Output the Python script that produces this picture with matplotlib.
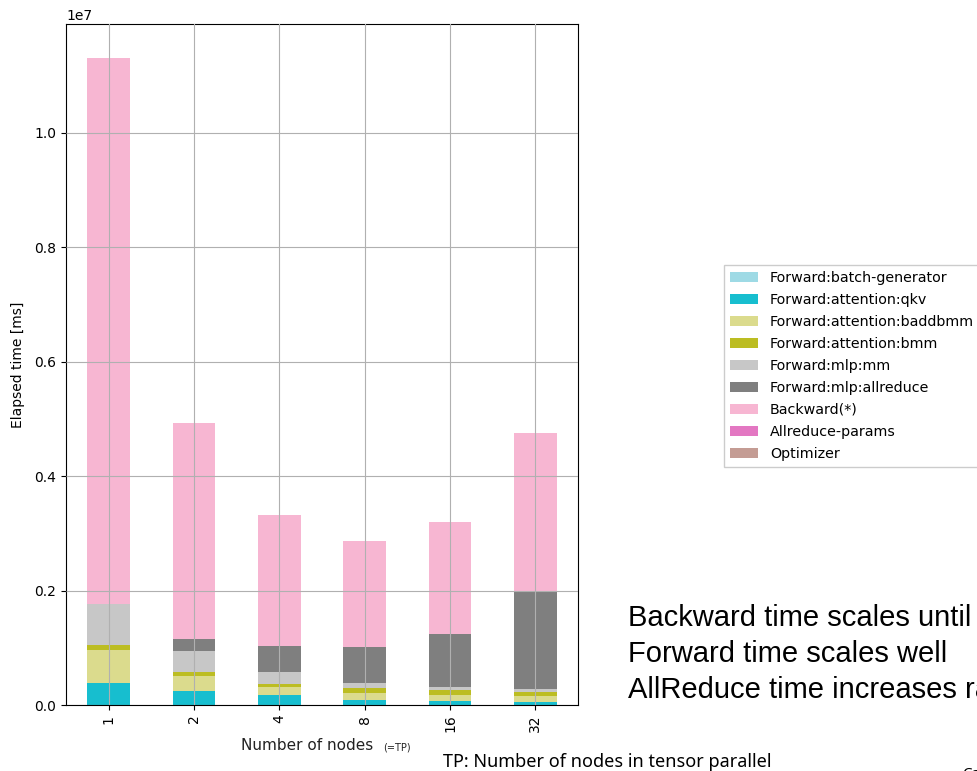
import numpy as np
import pandas as pd
import matplotlib
matplotlib.use("Agg")
import matplotlib.pyplot as plt

# elapsed time per phase, stacked per node count
nodes = ["1", "2", "4", "8", "16", "32"]
batch_generator = [4000, 3000, 2500, 2000, 2000, 2000]
attention_qkv = [386000, 247000, 167000, 85000, 74000, 45000]
attention_baddbmm = [571000, 257000, 140000, 128000, 105000, 116000]
attention_bmm = [81000, 75000, 58000, 82000, 81000, 64000]
mlp_mm = [722000, 361000, 215000, 82000, 52000, 52000]
mlp_allreduce = [0, 210000, 455000, 628000, 926000, 1701000]
backward = [9536000, 3775000, 2283000, 1858000, 1957000, 2771000]
allreduce_params = [0, 1000, 1000, 1000, 1000, 1000]
optimizer = [1000, 1000, 1000, 1000, 1000, 1000]

phases = ["Forward:batch-generator", "Forward:attention:qkv",
          "Forward:attention:baddbmm", "Forward:attention:bmm",
          "Forward:mlp:mm", "Forward:mlp:allreduce", "Backward(*)",
          "Allreduce-params", "Optimizer"]
colors = ["#9edae5", "#17becf", "#dbdb8d", "#bcbd22", "#c7c7c7",
          "#7f7f7f", "#f7b6d2", "#e377c2", "#c49c94"]

df = pd.DataFrame({
    phases[0]: batch_generator,
    phases[1]: attention_qkv,
    phases[2]: attention_baddbmm,
    phases[3]: attention_bmm,
    phases[4]: mlp_mm,
    phases[5]: mlp_allreduce,
    phases[6]: backward,
    phases[7]: allreduce_params,
    phases[8]: optimizer,
}, index=nodes)

fig = plt.figure(figsize=(9.78, 7.71), dpi=100)
ax = fig.add_axes([0.0675, 0.0856, 0.5235, 0.8833])
df.plot.bar(stacked=True, color=colors, ax=ax, width=0.5, legend=False)
ax.set_axisbelow(False)
ax.grid(True, color="#b0b0b0", linewidth=0.8)
ax.set_xlim(-0.5, 5.5)
ax.set_ylim(0, 1.19e7)
ax.set_ylabel("Elapsed time [ms]", fontsize=10, labelpad=7)
ax.tick_params(labelsize=10)

handles, labels = ax.get_legend_handles_labels()
fig.legend(handles, labels, loc="upper left",
           bbox_to_anchor=(717 / 978, 1 - 258 / 771), fontsize=10.3,
           handlelength=2.0, labelspacing=0.56, fancybox=False,
           framealpha=1.0, edgecolor="#cccccc")

fig.text(373 / 978, 1 - 746 / 771, "Number of nodes", fontsize=11,
         ha="right", va="center", color="#222222")
fig.text(383 / 978, 1 - 748 / 771, "(=TP)", fontsize=7, ha="left",
         va="center", color="#222222")
fig.text(443 / 978, 1 - 762 / 771, "TP: Number of nodes in tensor parallel",
         fontsize=13, family="Noto Sans", ha="left", va="center")

notes = ["Backward time scales until", "Forward time scales well",
         "AllReduce time increases rapidly"]
for i, line in enumerate(notes):
    fig.text(628 / 978, 1 - (618 + 36 * i) / 771, line, fontsize=21,
             family="Liberation Sans", ha="left", va="center")
fig.text(962 / 978, -0.004, "Ca", fontsize=11, family="Noto Sans",
         ha="left", va="center")

fig.savefig("out.png", dpi=100)
